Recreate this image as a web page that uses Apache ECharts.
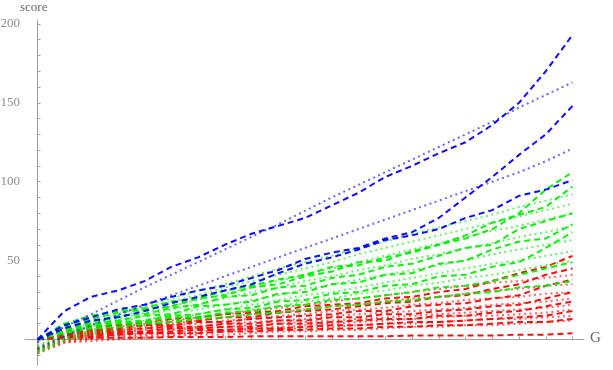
<!DOCTYPE html>
<html><head><meta charset="utf-8">
<script src="https://cdn.jsdelivr.net/npm/echarts@6/dist/echarts.min.js"></script>
<style>html,body{margin:0;padding:0;background:#fff}#c{width:613px;height:370px}</style>
</head><body><div id="c"></div>
<script>
const G = [0,10,20,30,40,50,60,70,80,90,100,110,120,130,140,150,160,170,180,190,200];
const xTickLabels = [50,100,150,200];
const yTickLabels = [50,100,150,200];

// blue
const blueDashed1 = [0,18,27,31,37,46,52,60,67,72,77,85,93,103,110,118,125,136,150,170,193];
const blueDashed2 = [0,9,14,19,22,27,31,34,39,44,51,55,58,64,68,77,90,103,117,130,148];
const blueDashed3 = [0,7,12,14,18,23,27,31,35,42,48,52,57,63,66,70,77,82,91,95,101];
const blueDotted1 = [-2,8,16,24.5,33,41,49,57,65,73,81.5,90,98,106,114,122,130,138,147,155,163];
const blueDotted2 = [-6,2,9,15.5,22,28,34,40,46,52,58,64,70,76,82,88,94,100,106,113,121];

// green
const greenDashed1 = [0,10,15,18,20,24,26,31,34,38,41,46,47,52,55,60,64,70,80,95,106];
const greenDashed2 = [0,9,13,17,19,21,26,28,33,35,40,43,49,50,56,60,66,74,79,84,97];
const greenDashed3 = [0,8,11,15,16,20,22,27,28,33,34,39,41,46,48,53,58,60,70,75,80];
const greenDashed4 = [0,7,10,12,15,16,21,22,24,29,30,35,36,41,42,48,50,57,62,64,73];
const greenDashed5 = [0,6,9,11,12,15,16,19,20,24,25,29,30,34,35,40,41,46,49,58,68];
const greenDashed6 = [0,5,8,10,11,14,14,17,18,21,22,25,26,28,30,33,34,37,41,45,49];
const greenDashed7 = [0,4,7,8,10,11,13,14,16,17,19,21,22,24,25,27,29,30,33,34,37];
const greenDotted1 = [-4,4,11,16,21,26,31,35,40,45,49,53,58,62,67,71,75,79,84,88,92];
const greenDotted2 = [-5,3,9,14,19,24,28,33,37,41,45,49,54,58,62,66,70,74,78,82,86];
const greenDotted3 = [-6,2,8,13,17,21,25,29,33,37,41,45,49,53,57,61,65,69,72,76,80];
const greenDotted4 = [-7,1,6,11,15,19,22,26,30,33,37,40,44,47,51,54,58,61,65,68,72];
const greenDotted5 = [-8,0,5,9,12,16,19,22,25,28,32,35,38,41,44,47,50,54,57,60,63];
const greenDotted6 = [-8,0,4,7,10,13,16,19,22,25,28,30,33,36,39,42,45,48,50,53,56];
const greenDotted7 = [-9,-1,3,6,9,11,14,16,19,21,24,26,29,31,34,36,39,41,44,47,50];

// red
const redDashed1 = [0,6,8,9,11,13,14,16,17,18,21,22,23,26,27,30,32,37,42,46,53];
const redDashed2 = [0,5,7,9,9,11,12,14,14,17,18,19,21,23,24,27,28,32,35,41,45];
const redDashed3 = [0,4,6,7,9,9,11,11,13,14,15,16,18,18,21,22,23,26,28,34,38];
const redDashed4 = [0,4,5,6,7,8,8,10,10,12,12,14,14,16,16,18,19,21,22,26,30];
const redDashed5 = [0,3,4,5,5,7,7,8,8,10,10,11,12,13,13,15,15,17,18,21,24];
const redDashed6 = [0,2,3,4,4,5,6,6,7,7,8,9,9,10,11,11,12,13,14,15,18];
const redDashed7 = [0,2,2,3,4,4,4,5,5,6,6,7,7,8,8,9,9,10,11,11,13];
const redDashed8 = [0,1,1,1,1,1.5,1.5,1.5,2,2,2,2,2,2,2.5,2.5,2.5,2.5,3,3,4];
const redDotted1 = [-5,2,5,8,10,12,14,16,18,20,22,24,26,28,30,32,34,36,37,39,41];
const redDotted2 = [-6,1,4,6,8,10,12,14,16,17,19,21,22,24,26,27,29,31,32,34,35];
const redDotted3 = [-6,0,3,5,7,9,10,12,13,15,16,18,19,20,22,23,25,26,27,29,30];
const redDotted4 = [-7,0,2,4,6,7,8,10,11,12,13,15,16,17,18,19,20,22,23,24,26];
const redDotted5 = [-7,-1,1,3,4,6,7,8,9,10,11,12,13,14,15,16,17,18,19,20,22];
const redDotted6 = [-8,-1,1,2,3,4,5,6,7,8,9,10,11,12,13,14,15,15,16,17,19];
const redDotted7 = [-8,-2,0,1,2,3,4,5,6,7,7,8,9,10,10,11,12,13,13,14,15];
const redDotted8 = [-9,-2,-1,0,1,2,3,3,4,5,5,6,6,7,8,8,9,9,10,11,12];

const BLUE='#0000ff', GREEN='#00ee00', RED='#ff0000';
const dashedStyle = c => ({color:c, width:2, type:[6,4], opacity:0.95});
const dottedStyle = c => ({color:c, width:2, type:[2,3.5], opacity:0.6});

const groups = [
  [redDotted1,RED,'dot'],[redDotted2,RED,'dot'],[redDotted3,RED,'dot'],[redDotted4,RED,'dot'],
  [redDotted5,RED,'dot'],[redDotted6,RED,'dot'],[redDotted7,RED,'dot'],[redDotted8,RED,'dot'],
  [redDashed1,RED,'dash'],[redDashed2,RED,'dash'],[redDashed3,RED,'dash'],[redDashed4,RED,'dash'],
  [redDashed5,RED,'dash'],[redDashed6,RED,'dash'],[redDashed7,RED,'dash'],[redDashed8,RED,'dash'],
  [greenDotted1,GREEN,'dot'],[greenDotted2,GREEN,'dot'],[greenDotted3,GREEN,'dot'],[greenDotted4,GREEN,'dot'],
  [greenDotted5,GREEN,'dot'],[greenDotted6,GREEN,'dot'],[greenDotted7,GREEN,'dot'],
  [greenDashed1,GREEN,'dash'],[greenDashed2,GREEN,'dash'],[greenDashed3,GREEN,'dash'],[greenDashed4,GREEN,'dash'],
  [greenDashed5,GREEN,'dash'],[greenDashed6,GREEN,'dash'],[greenDashed7,GREEN,'dash'],
  [blueDotted1,BLUE,'dot'],[blueDotted2,BLUE,'dot'],
  [blueDashed1,BLUE,'dash'],[blueDashed2,BLUE,'dash'],[blueDashed3,BLUE,'dash']
];

const series = groups.map(([arr,c,k]) => ({
  type:'line', showSymbol:false, symbol:'none', silent:true,
  data: G.map((g,i)=>[g,arr[i]]),
  lineStyle: k==='dash' ? dashedStyle(c) : dottedStyle(c)
}));

const tickFont = {fontFamily:'Liberation Serif', fontSize:13, color:'#8c8c8c'};
const chart = echarts.init(document.getElementById('c'), null, {renderer:'canvas'});
chart.setOption({
  animation:false,
  grid:{left:25, right:29, top:20, bottom:5, containLabel:false, outerBoundsMode:'none'},
  xAxis:{type:'value', min:-4.7, max:204.3,
    axisLine:{onZero:true, lineStyle:{color:'#a0a0a0', width:1}},
    axisTick:{show:true, inside:true, length:3, lineStyle:{color:'#a0a0a0'},
      customValues:[10,20,30,40,50,60,70,80,90,100,110,120,130,140,150,160,170,180,190,200]},
    axisLabel:Object.assign({customValues:xTickLabels, margin:6}, tickFont),
    splitLine:{show:false}},
  yAxis:{type:'value', min:-16.2, max:202.5,
    axisLine:{onZero:true, lineStyle:{color:'#a0a0a0', width:1}},
    axisTick:{show:true, inside:true, length:3, lineStyle:{color:'#a0a0a0'},
      customValues:[-10,10,20,30,40,50,60,70,80,90,100,110,120,130,140,150,160,170,180,190,200]},
    axisLabel:Object.assign({customValues:yTickLabels, margin:5}, tickFont),
    splitLine:{show:false}},
  graphic:[
    {type:'text', left:20, top:1, style:{text:'score', font:'13px "Liberation Serif"', fill:'#666'}},
    {type:'text', left:590, top:331, style:{text:'G', font:'15px "Liberation Serif"', fill:'#666'}}
  ],
  series
});
</script></body></html>
